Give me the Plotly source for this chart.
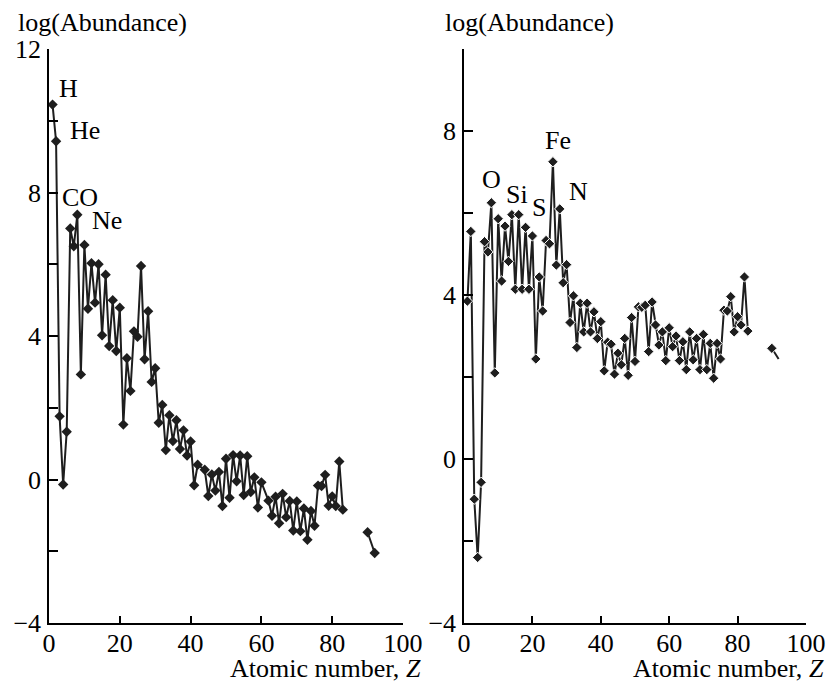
import plotly.graph_objects as go

# ---------------- data ----------------
# Left panel: atomic number Z and log(abundance)
z_left = list(range(1, 43)) + list(range(44, 61)) + list(range(62, 91)) + [92]
logab_left = [
    10.45, 9.43, 1.76, -0.14, 1.33, 7.00, 6.50, 7.38, 2.93, 6.54,   # 1-10
    4.76, 6.03, 4.93, 6.00, 4.02, 5.71, 3.72, 5.00, 3.58, 4.79,      # 11-20
    1.53, 3.38, 2.47, 4.13, 3.98, 5.95, 3.35, 4.69, 2.72, 3.10,      # 21-30
    1.58, 2.08, 0.82, 1.79, 1.07, 1.65, 0.85, 1.37, 0.67, 1.06,      # 31-40
    -0.16, 0.41,                                                     # 41-42
    0.27, -0.46, 0.14, -0.31, 0.21, -0.74, 0.58, -0.51, 0.68,        # 44-52
    -0.05, 0.67, -0.43, 0.65, -0.35, 0.06, -0.78, -0.08,             # 53-60
    -0.59, -1.01, -0.48, -1.22, -0.40, -1.05, -0.60, -1.42, -0.61,   # 62-70
    -1.44, -0.81, -1.68, -0.88, -1.29, -0.17, -0.18, 0.13, -0.73,    # 71-79
    -0.47, -0.74, 0.50, -0.84,                                       # 80-83
    None, None, None, None, None, None,                              # 84-89 (no data)
    -1.47, -2.05,                                                    # 90, 92
]

# Right panel
z_right = list(range(1, 91)) + [92]
logab_right = [
    3.85, 5.55, -0.98, -2.40, -0.57, 5.30, 5.05, 6.25, 2.10, 5.86,   # 1-10
    4.34, 5.68, 4.82, 5.96, 4.14, 5.96, 4.14, 5.65, 4.14, 5.44,      # 11-20
    2.44, 4.44, 3.61, 5.33, 5.25, 7.25, 4.73, 6.10, 4.30, 4.74,      # 21-30
    3.33, 3.98, 2.72, 3.80, 3.10, 3.80, 3.10, 3.59, 2.94, 3.35,      # 31-40
    2.15, 2.85, 2.80, 2.07, 2.58, 2.30, 2.94, 2.04, 3.45, 2.38,      # 41-50
    3.71, 3.70, 3.75, 2.62, 3.83, 3.27, 2.78, 3.10, 2.40, 3.20,      # 51-60
    2.74, 3.00, 2.40, 2.86, 2.18, 3.10, 2.42, 2.94, 2.18, 3.04,      # 61-70
    2.18, 2.82, 1.97, 2.82, 2.44, 3.63, 3.61, 3.96, 3.10, 3.47,      # 71-80
    3.27, 4.44, 3.12,                                                # 81-83
    None, None, None, None, None, None,                              # 84-89 (no data)
    2.70, 2.44,                                                      # 90, 92
]

left_labels = ["H", "He", "CO", "Ne"]
left_label_x = [5.45, 10.2, 8.8, 16.3]
left_label_y = [10.9, 9.72, 7.86, 7.21]

right_labels = ["O", "Si", "S", "Fe", "N"]
right_label_x = [8.0, 15.5, 22.0, 27.4, 33.4]
right_label_y = [6.81, 6.46, 6.14, 7.78, 6.52]

x_ticks = [0, 20, 40, 60, 80, 100]
y_ticks_left = [-4, -2, 0, 2, 4, 6, 8, 10, 12]
y_ticks_right = [-4, -2, 0, 2, 4, 6, 8, 10]

# ---------------- figure ----------------
W, H = 826, 682
FONT = "Liberation Serif"
FS = 26
INK = "#1e1e1e"


def ylab(v):
    if v % 4 != 0:
        return ""
    return ("\u2212" + str(-v)) if v < 0 else str(v)


fig = go.Figure()

# right-panel marker sizes (last point drawn without marker, as in the original)
right_sizes = [8] * len(z_right)
right_sizes[-1] = 0

fig.add_trace(go.Scatter(
    x=z_left, y=logab_left, mode="lines+markers", xaxis="x", yaxis="y",
    line=dict(color=INK, width=2),
    marker=dict(symbol="diamond", size=8, color=INK, opacity=1),
    connectgaps=False, showlegend=False, hoverinfo="x+y"))

fig.add_trace(go.Scatter(
    x=z_right, y=logab_right, mode="lines+markers", xaxis="x2", yaxis="y2",
    line=dict(color=INK, width=2),
    marker=dict(symbol="diamond", size=right_sizes, color=INK, opacity=1),
    connectgaps=False, showlegend=False, hoverinfo="x+y"))

axis_common = dict(
    showline=True, linecolor="black", linewidth=1.5,
    ticks="inside", tickcolor="black", tickwidth=1.5,
    showgrid=False, zeroline=False, automargin=False,
    tickfont=dict(family=FONT, size=FS, color="black"),
)

py0, py1 = 1 - 623 / H, 1 - 49 / H

fig.update_layout(
    width=W, height=H,
    margin=dict(l=0, r=0, t=0, b=0, autoexpand=False),
    paper_bgcolor="white", plot_bgcolor="white",
    font=dict(family=FONT, size=FS, color="black"),
    xaxis=dict(domain=[49 / W, 403 / W], range=[0, 100], anchor="y",
               tickvals=x_ticks, ticktext=[str(v) for v in x_ticks],
               ticklen=7, ticklabelstandoff=-4, **axis_common),
    yaxis=dict(domain=[py0, py1], range=[-4, 12], anchor="x",
               tickvals=y_ticks_left, ticktext=[ylab(v) for v in y_ticks_left],
               ticklen=9, ticklabelstandoff=1, **axis_common),
    xaxis2=dict(domain=[464 / W, 806 / W], range=[0, 100], anchor="y2",
                tickvals=x_ticks, ticktext=[str(v) for v in x_ticks],
                ticklen=7, ticklabelstandoff=-4, **axis_common),
    yaxis2=dict(domain=[py0, py1], range=[-4, 10], anchor="x2",
                tickvals=y_ticks_right, ticktext=[ylab(v) for v in y_ticks_right],
                ticklen=9, ticklabelstandoff=1, **axis_common),
)

annotations = []
for t, x, y in zip(left_labels, left_label_x, left_label_y):
    annotations.append(dict(text=t, x=x, y=y, xref="x", yref="y", showarrow=False,
                            font=dict(family=FONT, size=FS, color="black")))
for t, x, y in zip(right_labels, right_label_x, right_label_y):
    annotations.append(dict(text=t, x=x, y=y, xref="x2", yref="y2", showarrow=False,
                            font=dict(family=FONT, size=FS, color="black")))

# axis titles
for xl in [16 / W, 443 / W]:
    annotations.append(dict(text="log(Abundance)", x=xl, y=1 - 23 / H, xref="paper", yref="paper",
                            xanchor="left", yanchor="middle", showarrow=False,
                            font=dict(family=FONT, size=FS, color="black")))
for xr in [423 / W, 826 / W]:
    annotations.append(dict(text="Atomic number, <i>Z</i>", x=xr, y=1 - 668 / H, xref="paper", yref="paper",
                            xanchor="right", yanchor="middle", showarrow=False,
                            font=dict(family=FONT, size=FS, color="black")))

fig.update_layout(annotations=annotations)

fig.write_html("out.html")
